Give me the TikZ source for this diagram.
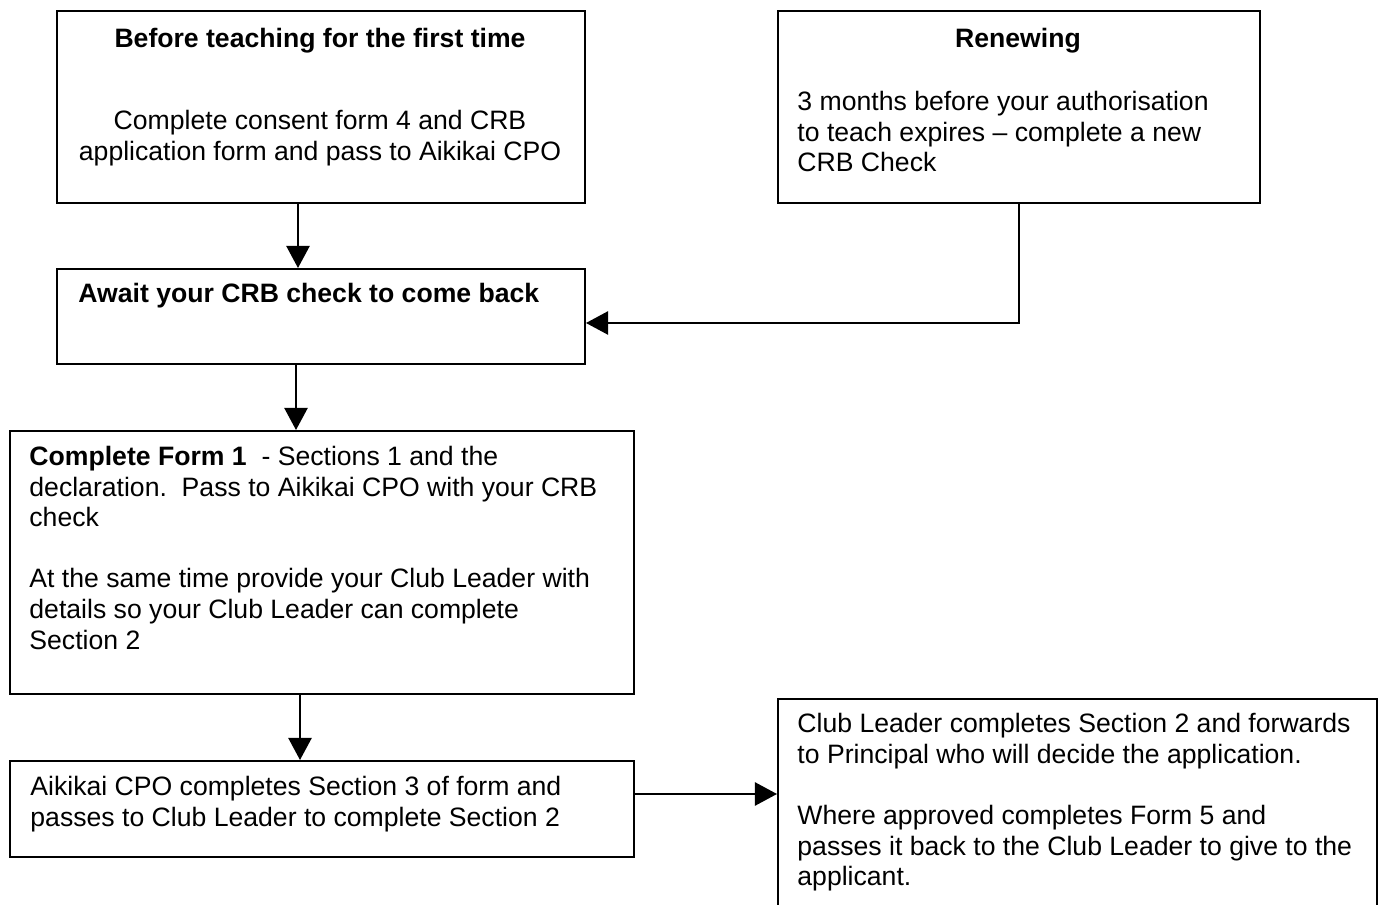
\documentclass[tikz,border=0pt]{standalone}
\usepackage{fontspec}
\setmainfont{Liberation Sans}
\usetikzlibrary{arrows.meta,calc}
\newdimen\pxu \pxu=0.451pt
\begin{document}
\begin{tikzpicture}[x=0.451pt,y=-0.451pt,
  box/.style={draw, line width=0.9pt, inner sep=0pt, anchor=north west},
  txt/.style={inner sep=0pt, font=\fontsize{12}{13.8}\selectfont},
  arr/.style={line width=0.9pt, -{Triangle[length=10pt,width=10.5pt]}}]
\useasboundingbox (0,0) rectangle (1382,905);
\clip (0,0) rectangle (1382,905);
% boxes
\node[box, minimum width=528\pxu, minimum height=192\pxu] (a) at (56,10) {};
\node[box, minimum width=482\pxu, minimum height=192\pxu] (b) at (777,10) {};
\node[box, minimum width=528\pxu, minimum height=95\pxu] (c) at (56,268) {};
\node[box, minimum width=624\pxu, minimum height=263\pxu] (d) at (9,430) {};
\node[box, minimum width=624\pxu, minimum height=96\pxu] (e) at (9,760) {};
\node[box, minimum width=599\pxu, minimum height=240\pxu] (f) at (777,698) {};
% texts
\node[txt, anchor=north] (at) at (320,25.6) {\strut\textbf{Before teaching for the first time}};
\node[txt, anchor=north, align=center] (ab) at (320,107.6) {\strut Complete consent form 4 and CRB\\application form and pass to Aikikai CPO};
\node[txt, anchor=north] (bt) at (1018,25.6) {\strut\textbf{Renewing}};
\node[txt, anchor=north west, align=left] (bb) at (797,88.6) {\strut 3 months before your authorisation\\to teach expires – complete a new\\CRB Check};
\node[txt, anchor=north west] (ct) at (78,280.6) {\strut\textbf{Await your CRB check to come back}};
\node[txt, anchor=north west, align=left] (dt) at (29,443.6) {\strut\textbf{Complete Form 1}\ \ - Sections 1 and the\\declaration.\ \ Pass to Aikikai CPO with your CRB\\check\\[13.8pt]At the same time provide your Club Leader with\\details so your Club Leader can complete\\Section 2};
\node[txt, anchor=north west, align=left] (et) at (30,773.6) {\strut Aikikai CPO completes Section 3 of form and\\passes to Club Leader to complete Section 2};
\node[txt, anchor=north west, align=left] (ft) at (797,711) {\strut Club Leader completes Section 2 and forwards\\to Principal who will decide the application.\\[13.8pt]Where approved completes Form 5 and\\passes it back to the Club Leader to give to the\\applicant.};
% connectors
\draw[arr] ($(a.south west)+(242,0)$) -- ($(c.north west)+(242,0)$);
\draw[arr] ($(c.south west)+(240,0)$) -- ($(d.north west)+(287,0)$);
\draw[arr] ($(d.south west)+(291,0)$) -- ($(e.north west)+(291,0)$);
\draw[arr] (b.south) |- ($(c.east)+(0,6.5)$);
\draw[arr] ($(e.north east)+(0,34)$) -- ($(f.north west)+(0,96)$);
\end{tikzpicture}
\end{document}
